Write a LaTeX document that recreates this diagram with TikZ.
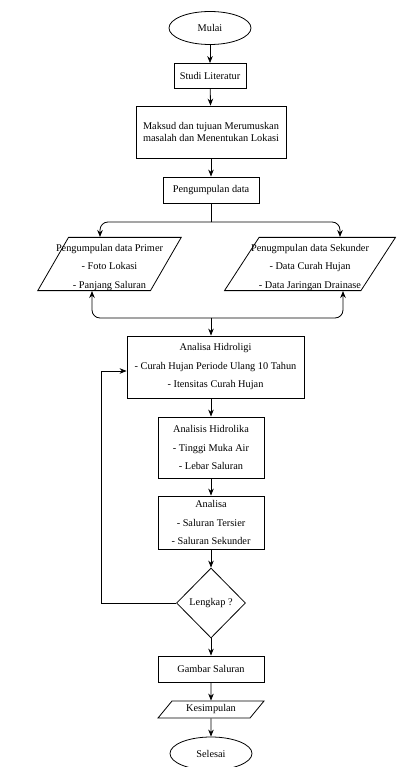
\documentclass[tikz,border=0pt]{standalone}
\usepackage{fontspec}
\setmainfont{Liberation Serif}
\usetikzlibrary{shapes.geometric,arrows.meta}

\newcommand{\topgap}{\rule{0pt}{14pt}}

\begin{document}
\begin{tikzpicture}[
        x=1pt, y=-1pt,
        every node/.style={draw, thick, text centered, align=center, inner sep=1pt,
            font=\fontsize{10.3}{18.5}\selectfont},
        terminal/.style={ellipse, minimum width=82pt, minimum height=33pt},
        process/.style={rectangle, minimum width=106pt},
        io/.style={trapezium, trapezium left angle=#1, trapezium right angle=180-#1},
        decision/.style={diamond, minimum width=69pt, minimum height=70pt, inner sep=0pt},
        arr/.style={draw, thick, -{Stealth[length=7pt,width=5.5pt]}},
    ]
    \useasboundingbox (0,0) rectangle (400,767);

    \node[terminal](mulai) at (210,28){Mulai};
    \node[process, minimum width=72pt, minimum height=25pt](studi) at (210,76){Studi Literatur};
    \node[process, minimum width=150pt, minimum height=52pt,
        font=\fontsize{10.3}{12}\selectfont](maksud) at (211,132)
        {Maksud dan tujuan Merumuskan\\masalah dan Menentukan Lokasi};
    \node[process, minimum width=96pt, minimum height=26pt](kumpul) at (211,190){Pengumpulan data};
    \node[io=60, inner xsep=-12.5pt, inner ysep=0pt](primer) at (109.5,264)
        {\topgap Pengumpulan data Primer\\- Foto Lokasi\\- Panjang Saluran};
    \node[io=57, inner xsep=-8pt, inner ysep=0pt](sekunder) at (310,264)
        {\topgap Penugmpulan data Sekunder\\- Data Curah Hujan\\- Data Jaringan Drainase};
    \node[process, minimum width=177pt, minimum height=62pt](hidrologi) at (215.5,367)
        {Analisa Hidroligi\\- Curah Hujan Periode Ulang 10 Tahun\\- Itensitas Curah Hujan};
    \node[process, minimum height=61pt](hidrolika) at (211,447.5)
        {Analisis Hidrolika\\- Tinggi Muka Air\\- Lebar Saluran};
    \node[process, minimum height=53pt](analisa) at (211,522.5)
        {Analisa\\- Saluran Tersier\\- Saluran Sekunder};
    \node[decision](lengkap) at (211,603){Lengkap ?};
    \node[process, minimum height=26pt](gambar) at (211,669){Gambar Saluran};
    \node[io=39, trapezium stretches body, minimum width=106pt, minimum height=17pt](kesimpulan)
        at (211,709.5){Kesimpulan};
    \node[terminal](selesai) at (211,753.5){Selesai};

    % titik bantu
    \coordinate (split) at (211,222);
    \coordinate (splitL) at (100,222);
    \coordinate (splitR) at (340,222);
    \coordinate (merge) at (211,318);
    \coordinate (mergeL) at (92,318);
    \coordinate (mergeR) at (343,318);
    \coordinate (loopL) at (101,603);

    \draw[arr] (mulai) -- (studi);
    \draw[arr] (studi) -- (maksud);
    \draw[arr] (maksud) -- (kumpul);
    \draw[thick] (kumpul.south) -- (split);
    \draw[arr, rounded corners=8pt] (split) -| (splitL |- primer.north);
    \draw[arr, rounded corners=8pt] (split) -| (splitR |- sekunder.north);
    \draw[arr, rounded corners=8pt] (merge) -| (mergeL |- primer.south);
    \draw[arr, rounded corners=8pt] (merge) -| (mergeR |- sekunder.south);
    \draw[arr] (merge) -- (merge |- hidrologi.north);
    \draw[arr] (hidrologi.south -| hidrolika.north) -- (hidrolika);
    \draw[arr] (hidrolika) -- (analisa);
    \draw[arr] (analisa) -- (lengkap);
    \draw[arr] (lengkap.west) -- (loopL) |- ([yshift=-4pt]hidrologi.west);
    \draw[arr] (lengkap) -- (gambar);
    \draw[arr] (gambar) -- (kesimpulan);
    \draw[arr] (kesimpulan) -- (selesai);

    \end{tikzpicture}
\end{document}
